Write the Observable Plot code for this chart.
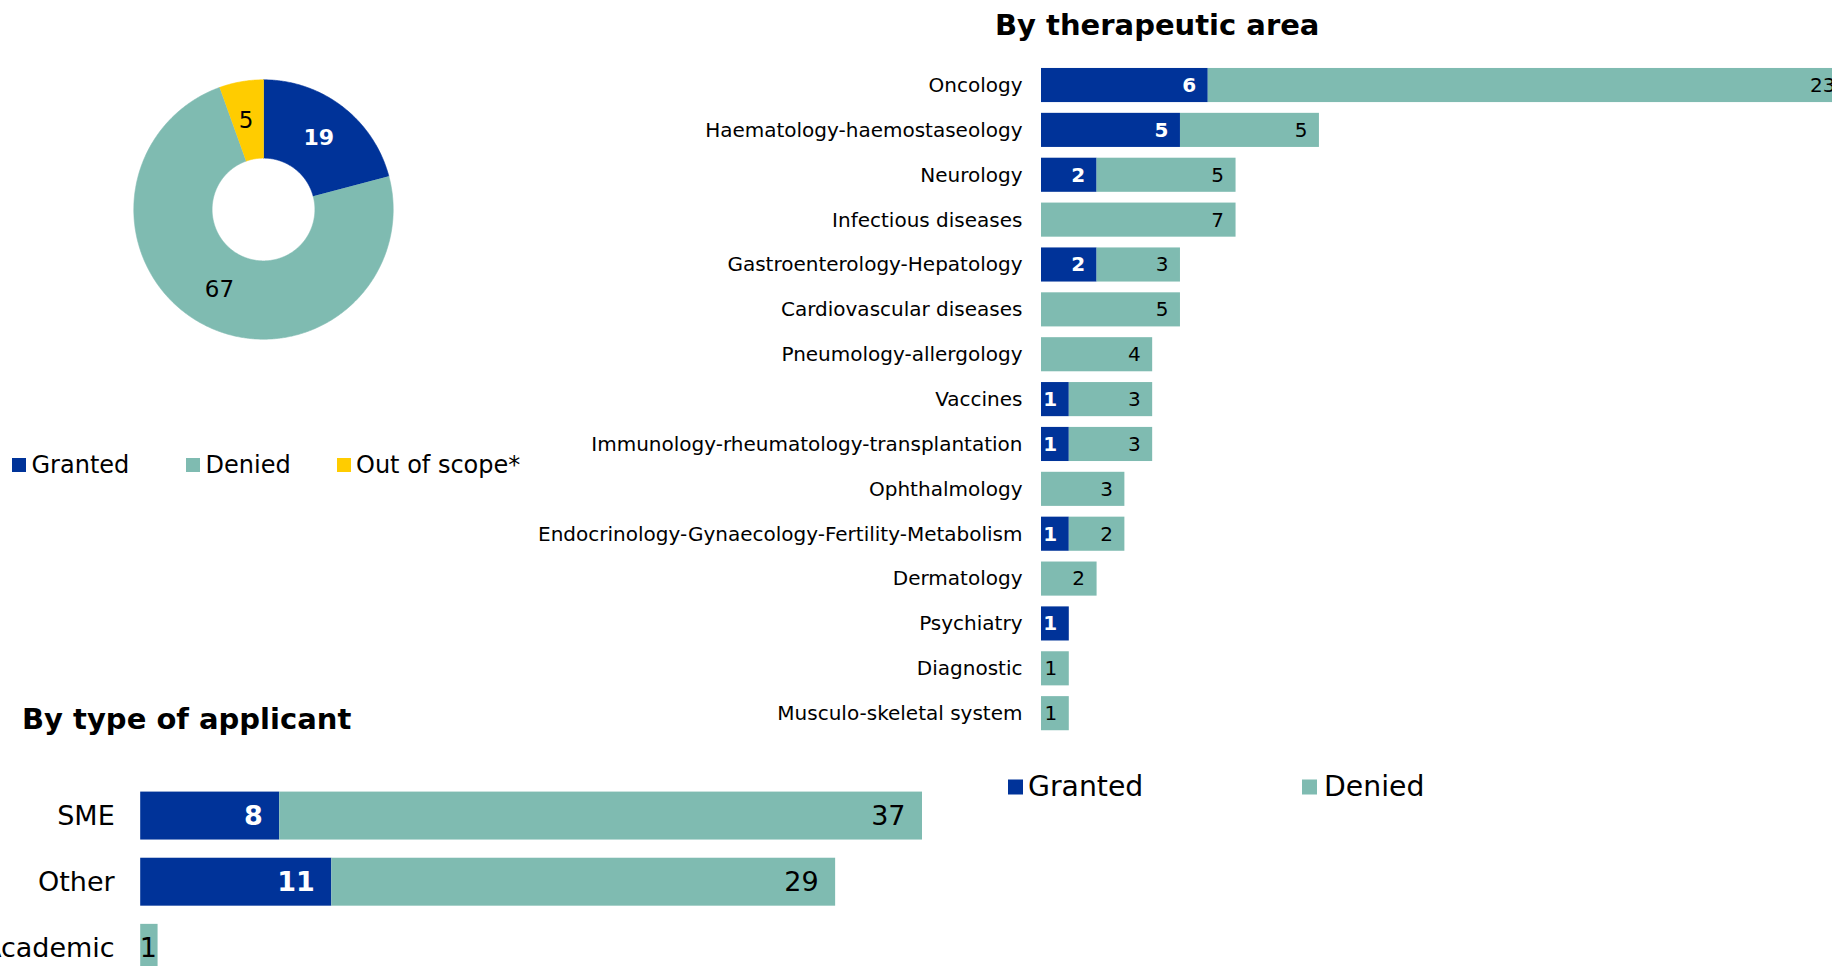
<!DOCTYPE html>
<html><head><meta charset="utf-8">
<script src="https://cdn.jsdelivr.net/npm/d3@7"></script>
<script src="https://cdn.jsdelivr.net/npm/@observablehq/plot@0.6"></script>
<style>
html,body{margin:0;padding:0;background:#fff;}
body{width:1832px;height:966px;overflow:hidden;position:relative;font-family:"DejaVu Sans",Verdana,sans-serif;color:#000;}
.title{position:absolute;font-weight:bold;font-size:29px;line-height:29px;white-space:nowrap;transform:translateY(-50%);}
.legtxt{position:absolute;white-space:nowrap;transform:translateY(-50%);}
.sw{position:absolute;transform:translateY(-50%);}
</style></head><body>
<script>
// ---------- data ----------
const pieCategories = ["Granted", "Denied", "Out of scope*"];
const pieValues = [19, 67, 5];

const areas = ["Oncology","Haematology-haemostaseology","Neurology","Infectious diseases",
  "Gastroenterology-Hepatology","Cardiovascular diseases","Pneumology-allergology","Vaccines",
  "Immunology-rheumatology-transplantation","Ophthalmology","Endocrinology-Gynaecology-Fertility-Metabolism",
  "Dermatology","Psychiatry","Diagnostic","Musculo-skeletal system"];
const areaGranted = [6, 5, 2, 0, 2, 0, 0, 1, 1, 0, 1, 0, 1, 0, 0];
const areaDenied  = [23, 5, 5, 7, 3, 5, 4, 3, 3, 3, 2, 2, 0, 1, 1];

const applicantTypes = ["SME", "Other", "Academic"];
const applicantGranted = [8, 11, 0];
const applicantDenied = [37, 29, 1];

const seriesNames = ["Granted", "Denied"];

// ---------- styles ----------
const BLUE = "#003399", TEAL = "#7FBBB1", YELLOW = "#FFCC00";
const pieColors = [BLUE, TEAL, YELLOW];
const FONT = '"DejaVu Sans", Verdana, sans-serif';

function place(el, left, top) {
  el.style.position = "absolute"; el.style.left = left + "px"; el.style.top = top + "px";
  document.body.appendChild(el);
}
function addText(cls, txt, left, cy, size, weight) {
  const d = document.createElement("div");
  d.className = cls; d.textContent = txt;
  d.style.left = left + "px"; d.style.top = cy + "px";
  if (size) { d.style.fontSize = size + "px"; d.style.lineHeight = size + "px"; }
  if (weight) d.style.fontWeight = weight;
  document.body.appendChild(d);
}
function addSwatch(color, left, cy, size) {
  const d = document.createElement("div");
  d.className = "sw";
  d.style.left = left + "px"; d.style.top = cy + "px";
  d.style.width = size + "px"; d.style.height = size + "px";
  d.style.background = color;
  document.body.appendChild(d);
}

// ---------- therapeutic area chart ----------
const areaRows = areas.map((a, i) => ({area: a, granted: areaGranted[i], denied: areaDenied[i]}));
const thera = Plot.plot({
  width: 1847, height: 741,
  marginLeft: 1041, marginRight: 0, marginTop: 57.2, marginBottom: 0,
  x: {domain: [0, 29], axis: null},
  y: {domain: areas, padding: 0.24, round: false, tickSize: 0, tickPadding: 19, label: null},
  style: {fontFamily: FONT, fontSize: "20px", color: "#000", background: "transparent", maxWidth: "none", overflow: "visible"},
  marks: [
    Plot.barX(areaRows.filter(d => d.granted > 0), {x1: 0, x2: "granted", y: "area", fill: BLUE}),
    Plot.barX(areaRows.filter(d => d.denied > 0), {x1: "granted", x2: d => d.granted + d.denied, y: "area", fill: TEAL}),
    Plot.text(areaRows.filter(d => d.granted > 0), {x: "granted", y: "area", text: d => String(d.granted),
      textAnchor: "end", dx: -12, fill: "white", fontWeight: "bold", fontSize: 20}),
    Plot.text(areaRows.filter(d => d.denied > 0), {x: d => d.granted + d.denied, y: "area", text: d => String(d.denied),
      textAnchor: "end", dx: -12, fill: "black", fontSize: 20})
  ]
});
place(thera, 0, 0);

// ---------- applicant chart ----------
const appRows = applicantTypes.map((a, i) => ({type: a, granted: applicantGranted[i], denied: applicantDenied[i]}));
const app = Plot.plot({
  width: 922, height: 250,
  marginLeft: 140.2, marginRight: 0, marginTop: 33.4, marginBottom: 0,
  x: {domain: [0, 45], axis: null},
  y: {domain: applicantTypes, padding: 0.275, round: false, tickSize: 0, tickPadding: 26, label: null},
  style: {fontFamily: FONT, fontSize: "27px", color: "#000", background: "transparent", maxWidth: "none"},
  marks: [
    Plot.barX(appRows.filter(d => d.granted > 0), {x1: 0, x2: "granted", y: "type", fill: BLUE}),
    Plot.barX(appRows.filter(d => d.denied > 0), {x1: "granted", x2: d => d.granted + d.denied, y: "type", fill: TEAL}),
    Plot.text(appRows.filter(d => d.granted > 0), {x: "granted", y: "type", text: d => String(d.granted),
      textAnchor: "end", dx: -17, fill: "white", fontWeight: "bold", fontSize: 27}),
    // wide segments: label at inside end
    Plot.text(appRows.filter(d => d.denied > 1), {x: d => d.granted + d.denied, y: "type", text: d => String(d.denied),
      textAnchor: "end", dx: -17, fill: "black", fontSize: 27}),
    // narrow segments: label centred in the segment
    Plot.text(appRows.filter(d => d.denied === 1), {x: d => d.granted + d.denied / 2, y: "type", text: d => String(d.denied),
      textAnchor: "middle", dx: -1, fill: "black", fontSize: 27})
  ]
});
place(app, 0, 740);

// ---------- donut ----------
const R1 = 129.7, R0 = 51.4, RM = (R1 + R0) / 2;
const arcs = d3.pie().sort(null)(pieValues);
const arcMarks = arcs.map((a, i) => {
  const pts = [];
  const n = Math.max(2, Math.ceil((a.endAngle - a.startAngle) / (Math.PI / 360)));
  for (let k = 0; k <= n; k++) { const t = a.startAngle + (a.endAngle - a.startAngle) * k / n; pts.push({x: R1 * Math.sin(t), y: R1 * Math.cos(t)}); }
  for (let k = n; k >= 0; k--) { const t = a.startAngle + (a.endAngle - a.startAngle) * k / n; pts.push({x: R0 * Math.sin(t), y: R0 * Math.cos(t)}); }
  return Plot.line(pts, {x: "x", y: "y", fill: pieColors[i], stroke: pieColors[i], strokeWidth: 0.6, curve: "linear"});
});
const labelPts = arcs.map((a, i) => {
  const m = (a.startAngle + a.endAngle) / 2;
  return {name: pieCategories[i], value: pieValues[i], x: RM * Math.sin(m), y: RM * Math.cos(m)};
});
const pie = Plot.plot({
  width: 300, height: 300, margin: 0,
  x: {domain: [-150, 150], range: [0, 300], axis: null},
  y: {domain: [-150, 150], range: [300, 0], axis: null},
  style: {fontFamily: FONT, background: "transparent", maxWidth: "none"},
  marks: [
    ...arcMarks,
    Plot.text(labelPts.filter(d => d.name === "Granted"), {x: "x", y: "y", text: d => String(d.value), fill: "white", fontWeight: "bold", fontSize: 22}),
    Plot.text(labelPts.filter(d => d.name !== "Granted"), {x: "x", y: "y", dx: -2, text: d => String(d.value), fill: "black", fontSize: 23})
  ]
});
place(pie, 262.9 - 150, 209.1 - 150);

// ---------- titles ----------
addText("title", "By therapeutic area", 995, 25);
addText("title", "By type of applicant", 22, 719);

// ---------- legends ----------
const pieLegSw = [12, 186, 336.5], pieLegTx = [31.5, 205.6, 356];
pieCategories.forEach((c, i) => {
  addSwatch(pieColors[i], pieLegSw[i], 465, 14);
  addText("legtxt", c, pieLegTx[i], 465, 24);
});
const barLegSw = [1008, 1302], barLegTx = [1028, 1324];
seriesNames.forEach((c, i) => {
  addSwatch([BLUE, TEAL][i], barLegSw[i], 787, 15);
  addText("legtxt", c, barLegTx[i], 787, 28.3);
});
</script>
</body></html>
